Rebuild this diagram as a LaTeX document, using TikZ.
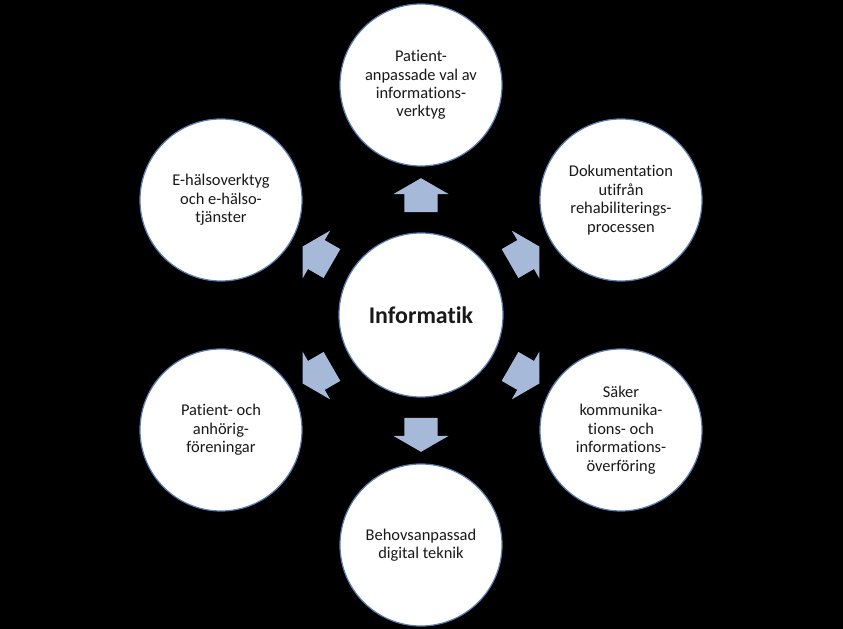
\documentclass[tikz,border=0pt]{standalone}
\usepackage{fontspec}
\setmainfont{Carlito}[Ligatures=NoCommon]
\usetikzlibrary{shapes.arrows}
\definecolor{ringblue}{HTML}{5A7DB4}
\definecolor{arrowblue}{HTML}{A7B9D8}
\tikzset{
  topic/.style={circle,draw=ringblue,line width=1.2bp,fill=white,minimum size=162bp,inner sep=0pt,align=center,text=black!90,font=\fontsize{16.5}{18.5}\selectfont},
  hub/.style={topic,minimum size=164bp,font=\fontsize{24}{28}\selectfont\bfseries},
  outarrow/.style={single arrow,fill=arrowblue,draw=none,inner xsep=0pt,inner ysep=16.5bp,minimum width=55bp,minimum height=34bp,single arrow head extend=11bp,single arrow tip angle=120}
}
\begin{document}
\begin{tikzpicture}[x=1bp,y=1bp]
\fill[black] (-421,-314) rectangle (422,315);
\useasboundingbox (-421,-314) rectangle (422,315);
%
\node[hub](info) at (0,0) {Informatik};
%
\node[topic](verktyg) at (0,230) {Patient-\\anpassade val av\\informations-\\verktyg};
\node[topic](dok) at (200,115) {Dokumentation\\utifrån\\rehabiliterings-\\processen};
\node[topic](saker) at (200,-115) {Säker\\kommunika-\\tions- och\\informations-\\överföring};
\node[topic](teknik) at (0,-230) {Behovsanpassad\\digital teknik};
\node[topic](foren) at (-200,-115) {Patient- och\\anhörig-\\föreningar};
\node[topic](ehalsa) at (-200,115) {E-hälsoverktyg\\och e-hälso-\\tjänster};
%
\node[outarrow,rotate=90](toverktyg) at (90:115) {};
\node[outarrow,rotate=30](todok) at (30:115) {};
\node[outarrow,rotate=-30](tosaker) at (-30:115) {};
\node[outarrow,rotate=-90](toteknik) at (-90:115) {};
\node[outarrow,rotate=210](toforen) at (210:115) {};
\node[outarrow,rotate=150](toehalsa) at (150:115) {};
\end{tikzpicture}
\end{document}
